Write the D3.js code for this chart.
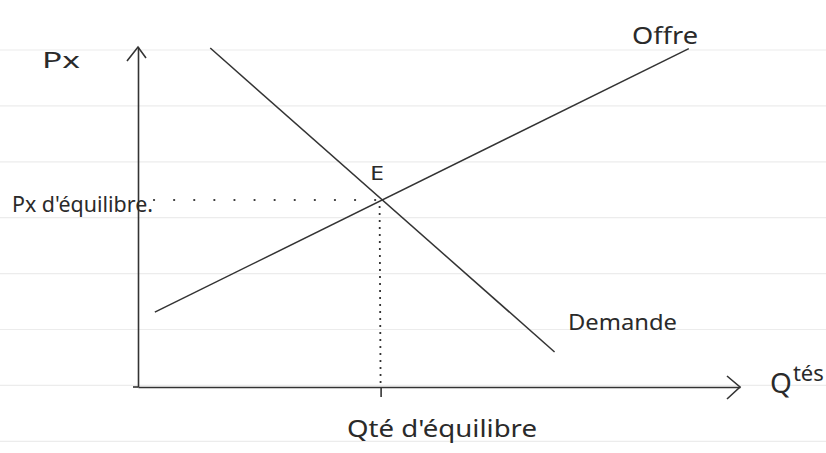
<!DOCTYPE html>
<html>
<head>
<meta charset="utf-8">
<script src="https://cdn.jsdelivr.net/npm/d3@7"></script>
<style>
  html, body { margin: 0; padding: 0; background: #ffffff; }
  svg text { font-family: "Noto Sans", "DejaVu Sans", sans-serif; fill: #2a2a2a; }
</style>
</head>
<body>
<div id="chart"></div>
<script>
// Supply / demand lines (quantity q, price p)
const supply = [{ q: 0.28, p: 2.2 }, { q: 9.15, p: 9.95 }];
const demand = [{ q: 1.2, p: 9.97 }, { q: 6.92, p: 1.03 }];
const equilibrium = { q: 4.03, p: 5.5 };

const qDomain = [0, 10];
const pDomain = [0, 10];

const width = 826;
const height = 453;
const ink = '#333333';

const svg = d3.select('#chart')
  .append('svg')
  .attr('width', width)
  .attr('height', height)
  .style('background', '#ffffff');

// Notebook ruling (background decoration)
svg.append('g')
  .selectAll('line')
  .data(d3.range(0, 8))
  .join('line')
  .attr('x1', 0)
  .attr('x2', width)
  .attr('y1', i => 50 + i * 55.9)
  .attr('y2', i => 50 + i * 55.9)
  .attr('stroke', '#ececec')
  .attr('stroke-width', 1.2);

const x = d3.scaleLinear().domain(qDomain).range([138, 740]);
const y = d3.scaleLinear().domain(pDomain).range([387, 47]);

// Axes
const xAxis = svg.append('g')
  .attr('transform', `translate(0,${y(0)})`)
  .call(d3.axisBottom(x).tickValues([equilibrium.q]).tickFormat('').tickSize(10).tickSizeOuter(0));

const yAxis = svg.append('g')
  .attr('transform', `translate(${x(0)},0)`)
  .call(d3.axisLeft(y).tickValues([]).tickSizeOuter(0));

[xAxis, yAxis].forEach(a => {
  a.selectAll('path, line').attr('stroke', ink).attr('stroke-width', 1.6);
});

// small overshoot of the x axis past the origin, as drawn by hand
svg.append('line')
  .attr('x1', x(0) - 5).attr('x2', x(0))
  .attr('y1', y(0)).attr('y2', y(0))
  .attr('stroke', ink).attr('stroke-width', 1.6);

// Arrow heads
svg.append('path')
  .attr('d', `M${x(10) - 13},${y(0) - 11} L${x(10)},${y(0)} L${x(10) - 13},${y(0) + 12}`)
  .attr('fill', 'none').attr('stroke', ink).attr('stroke-width', 1.6);
svg.append('path')
  .attr('d', `M${x(0) - 11},${y(10) + 14} L${x(0)},${y(10)} L${x(0) + 8},${y(10) + 11}`)
  .attr('fill', 'none').attr('stroke', ink).attr('stroke-width', 1.6);

// Curves
const line = d3.line().x(d => x(d.q)).y(d => y(d.p));

svg.selectAll('.curve')
  .data([supply, demand])
  .join('path')
  .attr('class', 'curve')
  .attr('d', line)
  .attr('fill', 'none')
  .attr('stroke', ink)
  .attr('stroke-width', 1.5);

// Guide lines to the equilibrium
svg.append('line')
  .attr('x1', x(0) + 16).attr('x2', x(equilibrium.q) - 4)
  .attr('y1', y(equilibrium.p)).attr('y2', y(equilibrium.p))
  .attr('stroke', ink).attr('stroke-width', 2.2)
  .attr('stroke-linecap', 'round')
  .attr('stroke-dasharray', '0.1,20');

svg.append('line')
  .attr('x1', x(equilibrium.q) - 1).attr('x2', x(equilibrium.q))
  .attr('y1', y(equilibrium.p) + 6).attr('y2', y(0))
  .attr('stroke', ink).attr('stroke-width', 1.8)
  .attr('stroke-dasharray', '2,5');

// Labels
const labels = [
  { text: 'Px', x: 42, y: 68, size: 22, len: 38 },
  { text: "Px d'équilibre.", x: 12, y: 212, size: 21, len: 141 },
  { text: 'E', x: 370, y: 180, size: 19, len: 14 },
  { text: 'Offre', x: 632, y: 44, size: 24, len: 66 },
  { text: 'Demande', x: 568, y: 330, size: 22, len: 109 },
  { text: "Qté d'équilibre", x: 347, y: 437, size: 24, len: 190 }
];

svg.append('g')
  .selectAll('text')
  .data(labels)
  .join('text')
  .attr('x', d => d.x)
  .attr('y', d => d.y)
  .attr('font-size', d => d.size)
  .attr('textLength', d => d.len)
  .attr('lengthAdjust', 'spacingAndGlyphs')
  .text(d => d.text);

// "Qtés" with the raised small letters, cut by the page edge
const qtes = svg.append('text').attr('x', 770).attr('y', 393);
qtes.append('tspan').attr('font-size', 28).text('Q');
qtes.append('tspan').attr('font-size', 22).attr('dy', -12).attr('dx', 1).text('tés');
</script>
</body>
</html>
